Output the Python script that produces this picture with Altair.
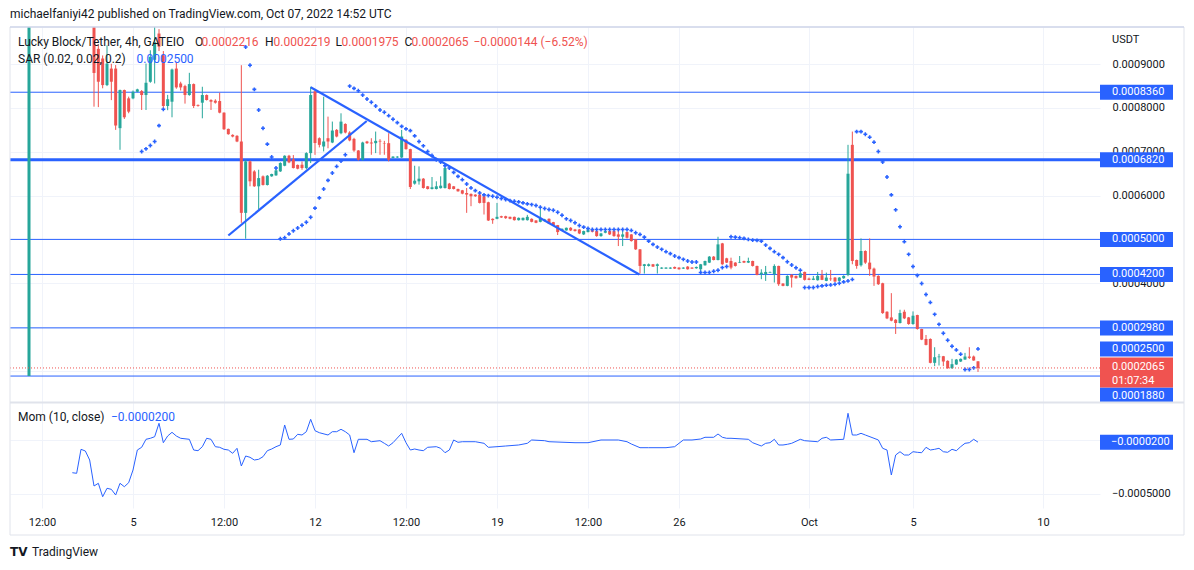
import altair as alt
import pandas as pd

# ---------------------------------------------------------------- data
PU = 1e-7  # prices below are written in units of 0.0000001 USDT

# listing candle (bar 0 = 1 Sep 00:00 UTC): open, high, low, close
first_ohlc = (1880, 16000, 1880, 15000)

# 4h candles from 3 Sep 12:00 UTC (bar 15) to 7 Oct 12:00 UTC (bar 219)
ohlc = [
    (9900, 9950, 8030, 8800), (9350, 9450, 8020, 8600), (9130, 9200, 8450, 8523), (8523, 9430, 8500, 9015),
    (8900, 9010, 8180, 8600), (8900, 8980, 7500, 7600), (7540, 8420, 7046, 8410), (8410, 8420, 7750, 7788),
    (8220, 8260, 7880, 7917), (8220, 8400, 8200, 8371), (8371, 8440, 8360, 8425), (8386, 8410, 7955, 8296),
    (8296, 9015, 7955, 8576), (8599, 9318, 8576, 9167), (9100, 9900, 8560, 9500), (9700, 9800, 9300, 9400),
    (9205, 9300, 7955, 8046), (8046, 8300, 7950, 8200), (8144, 8900, 7788, 8879), (8900, 9050, 8440, 8470),
    (8560, 8600, 8400, 8470), (8500, 8530, 8100, 8296), (8296, 8803, 8280, 8546), (8546, 8560, 8000, 8046),
    (8070, 8080, 8030, 8050), (8121, 8485, 7765, 8296), (8296, 8310, 8170, 8182), (8182, 8200, 7955, 8144),
    (8167, 8200, 8100, 8121), (8159, 8349, 7879, 7894), (7894, 7900, 7500, 7515), (7523, 7530, 7390, 7402),
    (7386, 7400, 7330, 7348), (7364, 7380, 7220, 7235), (7235, 8977, 5379, 5606), (5606, 6819, 5015, 6781),
    (6781, 6800, 6212, 6326), (6553, 6580, 6200, 6212), (6212, 6591, 5682, 6400), (6440, 6460, 6230, 6243),
    (6243, 6470, 6230, 6455), (6440, 6500, 6430, 6493), (6462, 6600, 6450, 6576), (6553, 6760, 6540, 6743),
    (6682, 6920, 6670, 6910), (6910, 6930, 6740, 6758), (6830, 6925, 6620, 6629), (6700, 6710, 6600, 6614),
    (6705, 6780, 6590, 6629), (6629, 6990, 6600, 6970), (6970, 8485, 6743, 8296), (8380, 8400, 6930, 7200),
    (7310, 7330, 7100, 7159), (7121, 8258, 7008, 7235), (7310, 7803, 7080, 7235), (7212, 7690, 7197, 7485),
    (7500, 7520, 7330, 7349), (7424, 7879, 7400, 7689), (7636, 7650, 7420, 7440), (7440, 7470, 7240, 7260),
    (7295, 7320, 7000, 7030), (7030, 7040, 6800, 6818), (6818, 7230, 6800, 7212), (7235, 7250, 7180, 7197),
    (7212, 7310, 6932, 7190), (7197, 7462, 6970, 7250), (7250, 7288, 6932, 7235), (7200, 7250, 6932, 7190),
    (7197, 7424, 6780, 6818), (6860, 6900, 6850, 6890), (6870, 6900, 6860, 6890), (6870, 7500, 6860, 7349),
    (7273, 7290, 7050, 7061), (7061, 7070, 6150, 6197), (6273, 6682, 6250, 6340), (6326, 6667, 6250, 6386),
    (6386, 6400, 6160, 6174), (6212, 6220, 6140, 6151), (6151, 6424, 6140, 6190), (6151, 6326, 6140, 6212),
    (6170, 6440, 6160, 6227), (6174, 6742, 6160, 6629), (6273, 6290, 6140, 6151), (6212, 6220, 6140, 6151),
    (6151, 6160, 6090, 6098), (6121, 6130, 6030, 6045), (6060, 6174, 5606, 6023), (6038, 6050, 5758, 5985),
    (6023, 6030, 5970, 5985), (6023, 6083, 5820, 5833), (5985, 6000, 5568, 5833), (5848, 5860, 5420, 5432),
    (5470, 5480, 5356, 5439), (5470, 5833, 5460, 5515), (5530, 5540, 5490, 5500), (5530, 5540, 5470, 5485),
    (5515, 5520, 5460, 5470), (5515, 5520, 5430, 5439), (5439, 5500, 5430, 5492), (5439, 5500, 5430, 5492),
    (5439, 5560, 5430, 5515), (5470, 5480, 5390, 5401), (5432, 5440, 5370, 5379), (5401, 5757, 5390, 5492),
    (5417, 5470, 5410, 5455), (5470, 5480, 5350, 5364), (5394, 5400, 5310, 5326), (5326, 5330, 5100, 5167),
    (5205, 5250, 5200, 5242), (5205, 5270, 5200, 5265), (5265, 5280, 5190, 5205), (5227, 5240, 5180, 5190),
    (5227, 5240, 5120, 5136), (5114, 5200, 5100, 5190), (5167, 5240, 5160, 5227), (5212, 5220, 5160, 5174),
    (5190, 5200, 5060, 5076), (5076, 5150, 5060, 5136), (5152, 5200, 5140, 5190), (5190, 5200, 5100, 5114),
    (5190, 5200, 5060, 5076), (5114, 5227, 4848, 5061), (5061, 5227, 4848, 5114), (5167, 5180, 5020, 5038),
    (5114, 5120, 4950, 4962), (5000, 5010, 4760, 4773), (4773, 4780, 4220, 4394), (4394, 4440, 4220, 4432),
    (4394, 4450, 4380, 4432), (4432, 4440, 4370, 4379), (4394, 4450, 4220, 4432), (4333, 4365, 4325, 4356),
    (4333, 4365, 4325, 4356), (4333, 4365, 4325, 4356), (4371, 4380, 4325, 4333), (4356, 4365, 4310, 4318),
    (4333, 4365, 4325, 4356), (4379, 4390, 4310, 4318), (4356, 4365, 4325, 4333), (4341, 4380, 4330, 4371),
    (4318, 4440, 4205, 4432), (4409, 4515, 4400, 4507), (4470, 4620, 4460, 4606), (4606, 4620, 4520, 4530),
    (4530, 5060, 4520, 4886), (4909, 4920, 4420, 4432), (4568, 4580, 4460, 4470), (4507, 4583, 4318, 4356),
    (4470, 4480, 4380, 4394), (4470, 4621, 4460, 4485), (4507, 4515, 4460, 4470), (4470, 4583, 4460, 4507),
    (4507, 4515, 4380, 4394), (4394, 4400, 4180, 4189), (4204, 4318, 4091, 4242), (4204, 4394, 4053, 4257),
    (4242, 4265, 4235, 4257), (4204, 4432, 4015, 4394), (4394, 4400, 3939, 3977), (3992, 4000, 3930, 3939),
    (3939, 4180, 3930, 4166), (4189, 4204, 3901, 4128), (4166, 4175, 4105, 4113), (4128, 4257, 4120, 4227),
    (4257, 4265, 4060, 4076), (4106, 4128, 4070, 4076), (4076, 4166, 4070, 4106), (4068, 4257, 4060, 4166),
    (4181, 4303, 4070, 4076), (4053, 4242, 4045, 4128), (4106, 4303, 4053, 4091), (4128, 4140, 4030, 4038),
    (4053, 4140, 4045, 4128), (4113, 4180, 4100, 4166), (4189, 7159, 4160, 6500), (7159, 7462, 4432, 4508),
    (4530, 4540, 4330, 4394), (4409, 5023, 4379, 4735), (4735, 4750, 4440, 4470), (4470, 5023, 4167, 4318),
    (4333, 4356, 3939, 4151), (4166, 4180, 3960, 3977), (3999, 4010, 3300, 3318), (3348, 3360, 3180, 3197),
    (3219, 3773, 3130, 3144), (3166, 3180, 2841, 3091), (3091, 3394, 3080, 3318), (3348, 3394, 3180, 3197),
    (3219, 3230, 3050, 3068), (3068, 3356, 3050, 3258), (3273, 3280, 2940, 2954), (2954, 2960, 2700, 2712),
    (2727, 2818, 2580, 2591), (2727, 2740, 2170, 2182), (2182, 2538, 2106, 2310), (2310, 2386, 2121, 2326),
    (2333, 2340, 2106, 2212), (2227, 2240, 2045, 2060), (2060, 2273, 2045, 2151), (2144, 2270, 2135, 2257),
    (2212, 2280, 2200, 2273), (2257, 2409, 2250, 2326), (2326, 2538, 2270, 2295), (2326, 2348, 2230, 2235),
    (2216, 2219, 1975, 2065),
]
FIRST_BAR = 15

# Parabolic SAR (bar index, value)
sar_bars = [26, 27, 28, 29, 30, 31, 50, 51, 52, 53, 54, 55, 56, 57,
            58, 59, 60, 61, 62, 63, 64, 65, 66, 67, 68, 69, 70, 71, 72, 73,
            74, 75, 76, 77, 78, 79, 80, 81, 82, 83, 84, 85, 86, 87, 88, 89, 90, 91, 92, 93, 94, 95, 96, 97, 98, 99,
            100, 101, 102, 103, 104, 105, 106, 107, 108, 109, 110, 111, 112, 113, 114, 115, 116, 117, 118, 119,
            120, 121, 122, 123, 124, 125, 126, 127, 128, 129, 130, 131, 132, 133, 134, 135, 136, 137, 138, 139,
            140, 141, 142, 143, 144, 145, 146, 147, 148, 149, 150, 151, 152, 153, 154,
            155, 156, 157, 158, 159, 160, 161,
            162, 163, 164, 165, 166, 167, 168, 169, 170, 171, 172, 173, 174, 175, 176, 177, 178,
            179, 180, 181, 182, 183, 184, 185, 186, 187, 188, 189, 190,
            191, 192, 193, 194, 195, 196, 197, 198, 199, 200, 201, 202, 203, 204, 205, 206, 207, 208, 209,
            210, 211, 212, 213, 214, 215, 216, 217, 218, 219]
sar_vals = [7007, 7068, 7143, 7234, 7598, 7970, 9393, 8977, 8425, 7955, 7539, 7175, 6880, 6630,
            5016, 5039, 5125, 5198, 5259, 5323, 5391, 5505, 5714, 5948, 6152, 6348, 6516, 6666, 6789, 6932,
            8500, 8448, 8393, 8295, 8205, 8130, 8045, 7955, 7902, 7825, 7743, 7666, 7580, 7523, 7484, 7364,
            7234, 7136, 7007, 6916, 6818, 6766, 6682, 6630, 6530, 6439,
            6364, 6266, 6175, 6114, 6061, 6016, 6000, 5984, 5961, 5932, 5909, 5886, 5870, 5857, 5834, 5811,
            5795, 5773, 5734, 5705,
            5682, 5666, 5621, 5552, 5470, 5432, 5380, 5318, 5280, 5250, 5227, 5227, 5227, 5227, 5227, 5227,
            5227, 5227, 5227, 5205,
            5152, 5114, 5052, 4961, 4886, 4825, 4773, 4720, 4675, 4620, 4584, 4545, 4507, 4484, 4484,
            4243, 4243, 4243, 4273, 4296, 4357, 4380,
            5061, 5052, 5039, 5023, 5000, 4984, 4977, 4961, 4870, 4795, 4720, 4659, 4584, 4489, 4416, 4352, 4295,
            3902, 3902, 3902, 3925, 3939, 3955, 3961, 3977, 4000, 4030, 4052, 4086,
            7461, 7461, 7402, 7334, 7220, 7007, 6766, 6425, 6016, 5675, 5289, 4948, 4659, 4380, 4175, 3993,
            3743, 3561, 3289, 3061, 2857, 2698, 2561, 2477, 2380, 2030, 2030, 2068, 2500]

# Momentum (10, close) (bar index, value)
mom_bars = [10, 11, 12, 13, 14, 15, 16, 17, 18, 19, 20, 21, 22, 23, 24, 25, 26, 27, 28, 29, 30, 31, 32, 33,
            34, 35, 37, 38, 39, 40, 41, 42, 43, 44, 45, 46, 47, 48, 49, 50, 51, 52, 53, 54, 55, 56, 57, 58,
            59, 60, 61, 62, 63, 64, 65, 66, 67, 69, 70, 71, 72, 73, 74, 75, 76, 78, 79, 81, 82, 83, 84, 86,
            87, 88, 89, 90, 91, 92, 94, 95, 96, 97, 98, 99, 100, 103, 105, 106, 108, 110, 113, 115, 116, 119,
            120, 126, 129, 132, 136, 138, 139, 141, 143, 147, 149, 150, 151, 153, 155, 156, 158, 159, 160,
            161, 162, 166, 167, 169, 170, 171, 172, 173, 174, 175, 176, 178, 179, 182, 183, 184, 185, 188,
            189, 190, 191, 192, 193, 195, 196, 197, 198, 199, 200, 201, 202, 203, 204, 205, 206, 207, 208,
            209, 210, 211, 212, 213, 214, 215, 216, 217, 218, 219]
mom_vals = [-3012, -3067, -857, -1013, -1842, -4237, -3988, -5222, -4448, -4541, -5066, -3988, -4301, -3933,
            -2763, -921, -672, 64, 157, 304, 1538, -249, 368, 709, 368, 157, 64, -921, -985, -617, 157, 64,
            -617, -672, -857, -921, -1225, -764, -2395, -1474, -1593, -1842, -1778, -1538, -985, -829, -617,
            -460, 1382, 64, 92, 525, 460, 764, 1906, 857, 672, 460, 764, 764, 985, 764, 460, -1170, 64, 64,
            -157, -64, -304, -553, -249, 617, -249, -921, -829, -921, -985, -672, -617, -764, -1170, -921, 0,
            -212, -157, -157, -304, -672, -617, -553, -460, -304, 0, -64, -157, -249, -249, 0, 0, -157, -368,
            -709, -709, -709, -617, -304, 0, 0, 92, 249, 249, 553, 249, 157, 157, 64, -249, -553, -304, -249,
            64, -460, -460, -396, -304, 64, -64, -157, 157, 249, 0, 64, 2459, 460, 460, 617, 460, 157, 0,
            -764, -921, -3224, -1382, -1078, -1382, -1382, -1078, -1133, -1170, -672, -921, -857, -764, -1078,
            -1133, -857, -985, -617, -304, -249, 64, -200]

# horizontal levels drawn on the chart (price, line width)
level_prices = [0.000836, 0.000682, 0.0005, 0.00042, 0.000298, 0.000188]
level_widths = [1, 3, 1, 1, 1, 1]

# trend lines (id, time, price)
trend_id = ["a", "a", "b", "b"]
trend_time = ["2022-09-08T16:00:00Z", "2022-09-13T23:45:00Z", "2022-09-11T20:00:00Z", "2022-09-24T11:24:00Z"]
trend_price = [0.0005089, 0.0007703, 0.0008473, 0.0004200]

# price-scale labels
blue_labels = [0.000836, 0.000682, 0.0005, 0.00042, 0.000298, 0.00025]
last_price = 0.0002065
countdown = "01:07:34"
low_label = 0.000188
mom_last = -0.00002

price_ticks = [0.0002, 0.0003, 0.0004, 0.0005, 0.0006, 0.0007, 0.0008, 0.0009]
mom_ticks = [0.0, -0.0005]
time_ticks = ["2022-09-01 12:00", "2022-09-05", "2022-09-08 12:00", "2022-09-12", "2022-09-15 12:00",
              "2022-09-19", "2022-09-22 12:00", "2022-09-26", "2022-10-01", "2022-10-05", "2022-10-10"]

# ---------------------------------------------------------------- styles
FONT = "Roboto"
DARK = "#131722"
UP, DOWN, BLUE = "#26a69a", "#ef5350", "#2962FF"
GRID = "#f0f3fa"

T0 = pd.Timestamp("2022-09-01 00:00:00")
EPOCH = pd.Timestamp("1970-01-01")


def bt(b):
    return (T0 + pd.Timedelta(hours=4 * b)).strftime("%Y-%m-%dT%H:%M:%SZ")


def ms(ts):
    return int((pd.Timestamp(ts) - EPOCH) / pd.Timedelta(milliseconds=1))


# x scale: 26 px per day, 5 Sep 00:00 at 123 px from the plot's left edge, plot 1090 px wide
x_left = pd.Timestamp("2022-09-05") - pd.Timedelta(days=123 / 26)
x_right = x_left + pd.Timedelta(days=1090 / 26)
xs = alt.Scale(type="utc", domain=[ms(x_left), ms(x_right)], padding=0, nice=False)
XAX = alt.Axis(values=[ms(t) for t in time_ticks], grid=True, gridColor=GRID, ticks=False, domain=False,
               labelPadding=8, labelFont=FONT, labelFontSize=11, labelColor=DARK, title=None,
               labelExpr="utchours(datum.value) == 12 ? '12:00' : (utcdate(datum.value) == 1 ? "
                         "utcFormat(datum.value, '%b') : utcFormat(datum.value, '%-d'))")

ys = alt.Scale(domain=[-0.00011324, 0.00098493], nice=False, zero=False, padding=0)
# labels for 0.0002, 0.0003 and 0.0005 sit under the price-scale boxes and are not shown
YAX = alt.Axis(orient="right", values=price_ticks, format=".7f", grid=True, gridColor=GRID, ticks=False,
               tickSize=0, domain=False, labelPadding=12, labelFont=FONT, labelFontSize=11, labelColor=DARK,
               labelAlign="left", title=None,
               labelExpr="(abs(datum.value - 0.0002) < 1e-9 || abs(datum.value - 0.0003) < 1e-9 || "
                         "abs(datum.value - 0.0005) < 1e-9) ? '' : datum.label")
msc = alt.Scale(domain=[-0.00062615, 0.0038029], nice=False, zero=False, padding=0)
MAX = alt.Axis(orient="right", values=mom_ticks, grid=True, gridColor=GRID, ticks=False, tickSize=0,
               domain=False, labels=False, title=None)


def X(f):
    return alt.X(f, type="temporal", scale=xs, axis=XAX)


def Y(f):
    return alt.Y(f, type="quantitative", scale=ys, axis=YAX)


def M(f):
    return alt.Y(f, type="quantitative", scale=msc, axis=MAX)


# ---------------------------------------------------------------- frames
bars = [0] + list(range(FIRST_BAR, FIRST_BAR + len(ohlc)))
rows = [first_ohlc] + ohlc
candles = pd.DataFrame({
    "t": [bt(b) for b in bars],
    "open": [r[0] * PU for r in rows],
    "high": [r[1] * PU for r in rows],
    "low": [r[2] * PU for r in rows],
    "close": [r[3] * PU for r in rows],
})
candles["dir"] = ["up" if c >= o else "down" for o, c in zip(candles["open"], candles["close"])]
sar = pd.DataFrame({"t": [bt(b) for b in sar_bars], "v": [v * PU for v in sar_vals]})
mom = pd.DataFrame({"t": [bt(b) for b in mom_bars], "m": [v * PU for v in mom_vals]})
levels = pd.DataFrame({"p": level_prices, "w": level_widths})
trends = pd.DataFrame({"id": trend_id, "t": trend_time, "p": trend_price})
blue = pd.DataFrame({"p": blue_labels, "s": [f"{p:.7f}" for p in blue_labels]})
one = pd.DataFrame({"k": [0]})

col = alt.Color("dir:N", scale=alt.Scale(domain=["up", "down"], range=[UP, DOWN]), legend=None)

level_layer = alt.Chart(levels).mark_rule(color=BLUE).encode(
    y=Y("p"), strokeWidth=alt.StrokeWidth("w:Q", scale=None, legend=None))
wicks = alt.Chart(candles).mark_rule(strokeWidth=1, clip=True).encode(x=X("t"), y=Y("low"), y2="high", color=col)
bodies = alt.Chart(candles).mark_bar(size=3, clip=True).encode(x=X("t"), y=Y("open"), y2="close", color=col)
sar_layer = alt.Chart(sar).mark_point(shape="cross", filled=True, size=15, color=BLUE, opacity=1).encode(
    x=X("t"), y=Y("v"))
trend_layer = alt.Chart(trends).mark_line(color=BLUE, strokeWidth=2.2).encode(x=X("t"), y=Y("p"), detail="id:N")
last_line = alt.Chart(pd.DataFrame({"p": [last_price]})).mark_rule(
    color=DOWN, strokeDash=[1, 2], strokeWidth=1).encode(y=Y("p"))

# decorations
frame = alt.Chart(one).mark_rect(fillOpacity=0, stroke="#e0e3eb", strokeWidth=1).encode(
    x=alt.value(0), x2=alt.value(1174), y=alt.value(0), y2=alt.value(508))
top_line = alt.Chart(one).mark_rule(color="#c3cbe6", strokeWidth=1).encode(
    x=alt.value(0), x2=alt.value(1174), y=alt.value(0))
pane_sep = alt.Chart(one).mark_rule(color="#e0e3eb", strokeWidth=2).encode(
    x=alt.value(0), x2=alt.value(1174), y=alt.value(375.5))

# price-scale label boxes
blue_box = alt.Chart(blue).mark_rule(color=BLUE, strokeWidth=15).encode(
    x=alt.value(1090), x2=alt.value(1163), y=Y("p"))
blue_txt = alt.Chart(blue).mark_text(align="left", baseline="middle", color="white", font=FONT,
                                     fontSize=11).encode(x=alt.value(1102), y=Y("p"), text="s:N")
low_df = pd.DataFrame({"p": [low_label], "s": [f"{low_label:.7f}"]})
low_box = alt.Chart(low_df).mark_rule(color=BLUE, strokeWidth=15, yOffset=19).encode(
    x=alt.value(1090), x2=alt.value(1163), y=Y("p"))
low_txt = alt.Chart(low_df).mark_text(align="left", baseline="middle", color="white", font=FONT, fontSize=11,
                                      yOffset=20).encode(x=alt.value(1102), y=Y("p"), text="s:N")
last_df = pd.DataFrame({"p": [last_price], "s": [f"{last_price:.7f}"], "c": [countdown]})
last_box = alt.Chart(last_df).mark_rule(color="#f05350", strokeWidth=30, yOffset=4.5).encode(
    x=alt.value(1090), x2=alt.value(1163), y=Y("p"))
last_txt = alt.Chart(last_df).mark_text(align="left", baseline="middle", color="white", font=FONT,
                                        fontSize=11, yOffset=-1).encode(x=alt.value(1102), y=Y("p"), text="s:N")
cd_txt = alt.Chart(last_df).mark_text(align="left", baseline="middle", color="white", font=FONT,
                                      fontSize=11, yOffset=13).encode(x=alt.value(1102), y=Y("p"), text="c:N")


def label(txt, x, y, color=DARK, size=12, weight="normal", font=FONT):
    return alt.Chart(pd.DataFrame({"s": [txt]})).mark_text(
        align="left", baseline="middle", color=color, fontSize=size, font=font, fontWeight=weight
    ).encode(text="s:N", x=alt.value(x), y=alt.value(y))


texts = [
    label("michaelfaniyi42 published on TradingView.com, Oct 07, 2022 14:52 UTC", 0, -13),
    label("Lucky Block/Tether, 4h, GATEIO", 8, 15),
    label("O", 185, 15), label("0.0002216", 191.5, 15, DOWN),
    label("H", 255, 15), label("0.0002219", 263.5, 15, DOWN),
    label("L", 325.5, 15), label("0.0001975", 331.5, 15, DOWN),
    label("C", 394.5, 15), label("0.0002065", 401.5, 15, DOWN),
    label("\u22120.0000144 (\u22126.52%)", 463.5, 15, DOWN),
    label("SAR (0.02, 0.02, 0.2)", 8, 32), label("0.0002500", 126.5, 32, BLUE),
    label("USDT", 1102, 13, size=11),
    label("Mom (10, close)", 8, 390), label("\u22120.0000200", 101, 390, BLUE),
    label("\u22120.0005000", 1102, 467, size=11),
    label("TV", 0, 525, DARK, 12, "bold", "DejaVu Sans"),
    label("TradingView", 22, 525, DARK, 12),
]

price_group = alt.layer(level_layer, wicks, bodies, sar_layer, trend_layer, last_line, frame, top_line,
                        blue_box, blue_txt, low_box, low_txt, pane_sep, last_box, last_txt, cd_txt, *texts)

mom_line = alt.Chart(mom).mark_line(color=BLUE, strokeWidth=1).encode(x=X("t"), y=M("m"))
mom_df = pd.DataFrame({"m": [mom_last], "s": ["\u22120.0000200"]})
mom_box = alt.Chart(mom_df).mark_rule(color=BLUE, strokeWidth=15).encode(
    x=alt.value(1090), x2=alt.value(1163), y=M("m"))
mom_txt = alt.Chart(mom_df).mark_text(align="left", baseline="middle", color="white", font=FONT,
                                      fontSize=11).encode(x=alt.value(1101), y=M("m"), text="s:N")
mom_group = alt.layer(mom_line, mom_box, mom_txt)

chart = alt.layer(price_group, mom_group).resolve_scale(y="independent").properties(
    width=1090, height=481,
    padding={"left": 10, "top": 27, "right": 94, "bottom": 62},
    autosize=alt.AutoSizeParams(type="none"),
    background="white",
).configure_view(stroke=None)

chart.save("out.html", embed_options={"renderer": "svg", "actions": False})
